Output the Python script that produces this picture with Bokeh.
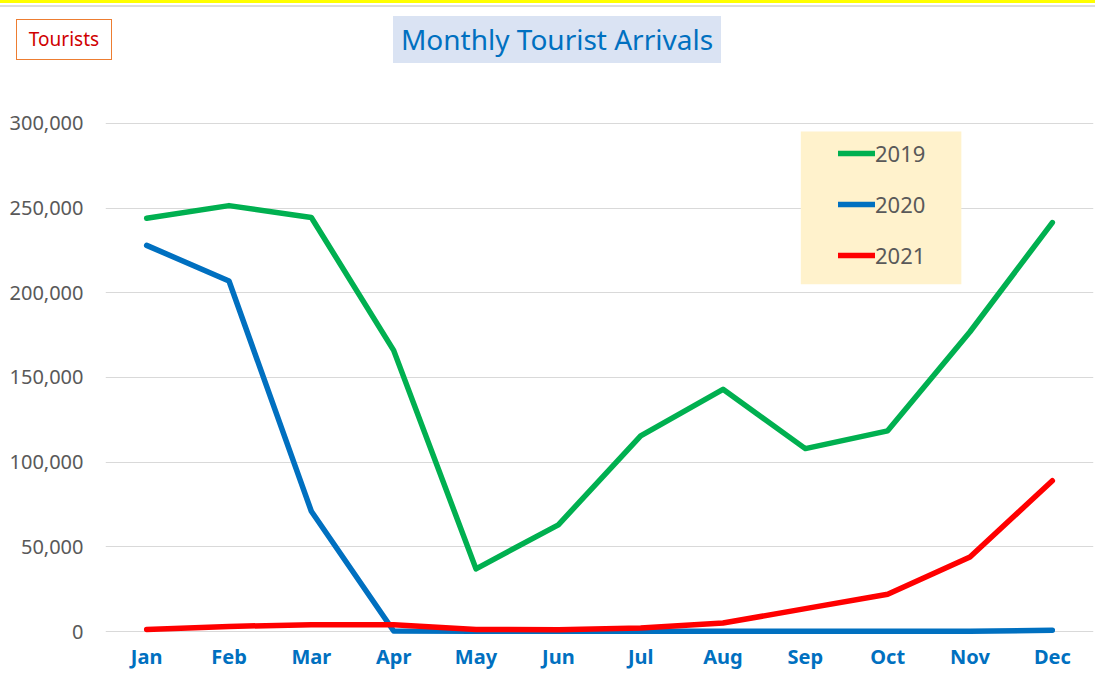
from bokeh.plotting import figure
from bokeh.layouts import column
from bokeh.models import (FactorRange, Range1d, NumeralTickFormatter, Legend, LegendItem,
                          BoxAnnotation, FixedTicker, Div)
from bokeh.embed import file_html
from bokeh.resources import INLINE

months = ["Jan", "Feb", "Mar", "Apr", "May", "Jun", "Jul", "Aug", "Sep", "Oct", "Nov", "Dec"]
y2019 = [244000, 251500, 244500, 166000, 37000, 63000, 115500, 143000, 108000, 118500, 177000, 241500]
y2020 = [228000, 207000, 71000, 300, 200, 200, 200, 200, 200, 200, 200, 700]
y2021 = [1200, 3000, 4000, 4000, 1200, 1000, 2000, 5000, 13500, 22000, 44000, 89000]
y_ticks = [0, 50000, 100000, 150000, 200000, 250000, 300000]
series_names = ["2019", "2020", "2021"]
title_text = "Monthly Tourist Arrivals"
badge_text = "Tourists"

W, TOP_H, MAIN_H = 1095, 108, 564

# ---- header (title + badge) as an HTML block ----
header_html = f"""
<div style="position:relative;width:{W}px;height:{TOP_H}px;font-family:'Noto Sans',sans-serif;">
  <div style="position:absolute;left:0;top:0;width:{W}px;height:3px;background:#FFFF00;"></div>
  <div style="position:absolute;left:0;top:5px;width:{W}px;height:2px;background:#DCDCDC;"></div>
  <div style="position:absolute;left:393px;top:16px;width:328px;height:47px;background:#DAE3F3;
              color:#0070C0;font-size:28px;line-height:47px;text-align:center;white-space:nowrap;">{title_text}</div>
  <div style="position:absolute;left:16px;top:19px;width:96px;height:41px;box-sizing:border-box;
              border:1.5px solid #ED7D31;color:#D00000;font-size:19px;line-height:38px;
              text-align:center;white-space:nowrap;">{badge_text}</div>
</div>
"""
header = Div(text=header_html, width=W, height=TOP_H, margin=0)

# ---- main chart ----
p = figure(width=W, height=MAIN_H, output_backend="svg", toolbar_location=None,
           x_range=FactorRange(*months, range_padding=0),
           y_range=Range1d(-1768, 308840),
           min_border_left=105, min_border_right=2, min_border_top=0, min_border_bottom=37)
p.outline_line_color = None
p.xgrid.grid_line_color = None
p.ygrid.grid_line_color = "#D9D9D9"
p.ygrid.grid_line_width = 1

p.yaxis.ticker = FixedTicker(ticks=y_ticks)
p.yaxis.formatter = NumeralTickFormatter(format="0,0")
for ax in (p.xaxis[0], p.yaxis[0]):
    ax.axis_line_color = None
    ax.major_tick_line_color = None
    ax.minor_tick_line_color = None
    ax.major_tick_out = 0
    ax.major_tick_in = 0
    ax.minor_tick_out = 0
    ax.minor_tick_in = 0
p.yaxis.major_label_text_font = "Noto Sans"
p.yaxis.major_label_text_font_size = "20px"
p.yaxis.major_label_text_color = "#595959"
p.yaxis.major_label_standoff = 22
p.xaxis.major_label_text_font = "Noto Sans"
p.xaxis.major_label_text_font_size = "20px"
p.xaxis.major_label_text_font_style = "bold"
p.xaxis.major_label_text_color = "#0070C0"
p.xaxis.major_label_standoff = 8

LW = 5.5
r19 = p.line(months, y2019, line_color="#00B050", line_width=LW, line_cap="round", line_join="round")
r20 = p.line(months, y2020, line_color="#0070C0", line_width=LW, line_cap="round", line_join="round")
r21 = p.line(months, y2021, line_color="#FF0000", line_width=LW, line_cap="round", line_join="round")

# legend background
p.add_layout(BoxAnnotation(left=8.445, right=10.395, top=295284, bottom=205107,
                           fill_color="#FFF2CC", fill_alpha=1, line_color=None))

legend = Legend(items=[LegendItem(label=n, renderers=[r]) for n, r in zip(series_names, [r19, r20, r21])],
                location=(733, 364), padding=0, margin=0, spacing=21,
                glyph_width=37, glyph_height=30, label_height=30, label_standoff=0,
                background_fill_alpha=0, border_line_alpha=0,
                label_text_font="Noto Sans", label_text_font_size="22px",
                label_text_color="#595959")
p.add_layout(legend)

layout = column(header, p, spacing=0)
open("out.html", "w").write(file_html(layout, INLINE))
